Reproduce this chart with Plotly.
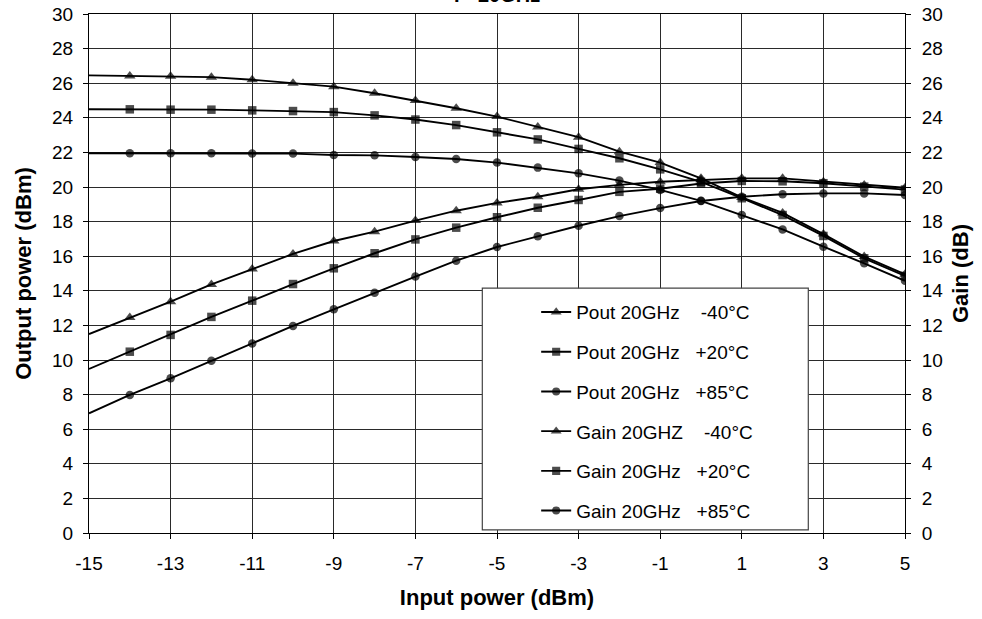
import plotly.graph_objects as go

x_in = [-15, -14, -13, -12, -11, -10, -9, -8, -7, -6, -5, -4, -3, -2, -1, 0, 1, 2, 3, 4, 5]

pout_m40 = [26.45, 26.42, 26.40, 26.35, 26.20, 26.00, 25.80, 25.42, 25.00, 24.55, 24.07,
            23.47, 22.88, 22.04, 21.41, 20.50, 19.40, 18.50, 17.28, 15.98, 14.95]
pout_p20 = [24.49, 24.49, 24.47, 24.47, 24.43, 24.39, 24.33, 24.14, 23.90, 23.58, 23.16,
            22.75, 22.20, 21.66, 21.02, 20.30, 19.35, 18.38, 17.17, 15.88, 14.86]
pout_p85 = [21.95, 21.95, 21.95, 21.95, 21.94, 21.93, 21.85, 21.83, 21.73, 21.62, 21.41,
            21.12, 20.79, 20.37, 19.83, 19.20, 18.38, 17.55, 16.55, 15.59, 14.58]
gain_m40 = [11.50, 12.45, 13.37, 14.37, 15.26, 16.13, 16.88, 17.42, 18.06, 18.63, 19.08,
            19.44, 19.87, 20.12, 20.30, 20.42, 20.50, 20.50, 20.31, 20.12, 19.96]
gain_p20 = [9.48, 10.48, 11.45, 12.49, 13.43, 14.39, 15.30, 16.17, 16.97, 17.65, 18.25,
            18.80, 19.25, 19.72, 19.90, 20.20, 20.35, 20.33, 20.22, 20.02, 19.85]
gain_p85 = [6.92, 7.98, 8.94, 9.96, 10.96, 11.97, 12.93, 13.89, 14.82, 15.74, 16.53,
            17.15, 17.76, 18.32, 18.78, 19.19, 19.44, 19.58, 19.63, 19.63, 19.54]

x_ticks = [-15, -13, -11, -9, -7, -5, -3, -1, 1, 3, 5]
x_ticktext = ["-15", "-13", "-11", "-9", "-7", "-5", "-3", "-1", "1", "3", "5"]

NB = "\u00a0"
names = ["Pout 20GHz" + NB * 4 + "-40°C", "Pout 20GHz" + NB * 3 + "+20°C",
         "Pout 20GHz" + NB * 3 + "+85°C", "Gain 20GHZ" + NB * 4 + "-40°C",
         "Gain 20GHz" + NB * 3 + "+20°C", "Gain 20GHz" + NB * 3 + "+85°C"]
series = [pout_m40, pout_p20, pout_p85, gain_m40, gain_p20, gain_p85]
symbols = ["triangle-up", "square", "circle", "triangle-up", "square", "circle"]
msizes = [10, 8.5, 8.5, 10, 8.5, 8.5]
on_right = [False, False, False, True, True, True]

FONT = "Liberation Sans, Arial, sans-serif"

fig = go.Figure()
for name, ys, sym, ms, r in zip(names, series, symbols, msizes, on_right):
    sizes = [0] + [ms] * (len(x_in) - 1)
    fig.add_trace(go.Scatter(
        x=x_in, y=ys, name=name, mode="lines+markers",
        yaxis="y2" if r else "y",
        line=dict(color="black", width=1.9),
        marker=dict(symbol=sym, size=sizes, color="black", line=dict(width=0)),
        legendgroup=name,
    ))

grid = "#2a2a2a"
fig.update_layout(
    width=982, height=619,
    margin=dict(l=89, r=77, t=14, b=86, autoexpand=False),
    paper_bgcolor="white", plot_bgcolor="white",
    font=dict(family=FONT, size=19, color="black"),
    showlegend=True,
    legend=dict(x=0.548, y=0.462, xanchor="left", yanchor="top",
                bgcolor="rgba(0,0,0,0)", borderwidth=0,
                font=dict(size=19, family=FONT), tracegroupgap=12,
                traceorder="grouped"),
    xaxis=dict(range=[-15, 5], tickmode="array", tickvals=x_ticks, ticktext=x_ticktext,
               showgrid=True, gridcolor=grid, gridwidth=1, automargin=False,
               zeroline=False, showline=True, linecolor="black", linewidth=1,
               mirror=True, ticks="outside", ticklen=5, tickcolor="black",
               ticklabelstandoff=8,
               title=dict(text="<b>Input power (dBm)</b>", font=dict(size=22), standoff=16),
               tickfont=dict(size=19)),
    yaxis=dict(range=[0, 30], tickmode="linear", tick0=0, dtick=2,
               showgrid=True, gridcolor=grid, gridwidth=1, automargin=False,
               zeroline=False, showline=True, linecolor="black", linewidth=1,
               ticks="outside", ticklen=5, tickcolor="black", ticklabelstandoff=6,
               title=dict(text="<b>Output power (dBm)</b>", font=dict(size=22), standoff=14),
               tickfont=dict(size=19)),
    yaxis2=dict(range=[0, 30], tickmode="linear", tick0=0, dtick=2, overlaying="y",
                side="right", showgrid=False, zeroline=False, showline=True, automargin=False,
                linecolor="black", linewidth=1, ticks="outside", ticklen=5,
                tickcolor="black", ticklabelstandoff=7,
                title=dict(text="<b>Gain (dB)</b>", font=dict(size=22), standoff=10),
                tickfont=dict(size=19)),
    shapes=[dict(type="rect", xref="x", yref="y", x0=-5.36, x1=2.63, y0=0.18, y1=14.15,
                 fillcolor="white", line=dict(color="#444444", width=1.2), layer="above")],
    annotations=[dict(text="<b>F=20GHz</b>", xref="paper", yref="paper", x=0.5, y=1.012,
                      xanchor="center", yanchor="bottom", showarrow=False,
                      font=dict(size=20, family=FONT))],
)

fig.write_html("out.html", config={"displayModeBar": False},
               post_script="document.body.style.margin='0px';")
